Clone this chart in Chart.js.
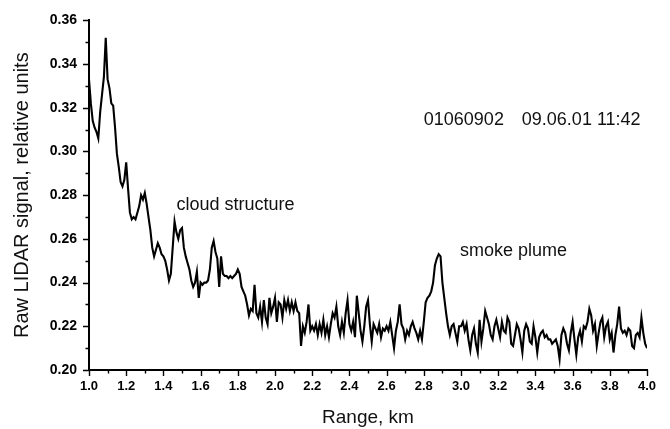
<!DOCTYPE html>
<html>
<head>
<meta charset="utf-8">
<script src="https://cdn.jsdelivr.net/npm/chart.js@4.4.1/dist/chart.umd.min.js"></script>
<style>
  html, body { margin: 0; padding: 0; background: #fff; }
  #lidarChart { display: block; }
</style>
</head>
<body>
<canvas id="lidarChart" width="670" height="429"></canvas>
<script>
// sampling along the beam, km
const rangeStart = 1.0;
const rangeStep = 0.01;

// raw return, one value per 10 m
const signal1_0 = [
  0.333, 0.322, 0.314, 0.311, 0.309, 0.306, 0.318, 0.326, 0.334, 0.352,
  0.333, 0.329, 0.322, 0.321, 0.311, 0.299, 0.293, 0.286, 0.284, 0.287,
  0.295, 0.283, 0.272, 0.269, 0.270, 0.269, 0.272, 0.275, 0.280, 0.278,
  0.281, 0.276, 0.270, 0.264, 0.256, 0.252, 0.255, 0.258, 0.256, 0.253,
  0.252, 0.250, 0.246, 0.241, 0.244, 0.256, 0.268, 0.263, 0.260, 0.264
];
const signal1_5 = [
  0.265, 0.256, 0.252, 0.249, 0.246, 0.241, 0.238, 0.240, 0.245, 0.233,
  0.240, 0.239, 0.240, 0.240, 0.241, 0.246, 0.256, 0.259, 0.254, 0.251,
  0.238, 0.252, 0.244, 0.243, 0.243, 0.242, 0.243, 0.242, 0.243, 0.244,
  0.246, 0.244, 0.238, 0.236, 0.234, 0.230, 0.225, 0.228, 0.227, 0.239,
  0.226, 0.224, 0.229, 0.222, 0.232, 0.224, 0.221, 0.233, 0.226, 0.229
];
const signal2_0 = [
  0.233, 0.222, 0.231, 0.230, 0.224, 0.232, 0.228, 0.232, 0.227, 0.231,
  0.227, 0.231, 0.227, 0.226, 0.211, 0.220, 0.217, 0.222, 0.230, 0.218,
  0.220, 0.218, 0.221, 0.216, 0.221, 0.217, 0.223, 0.216, 0.220, 0.215,
  0.221, 0.226, 0.224, 0.229, 0.220, 0.216, 0.222, 0.217, 0.226, 0.232,
  0.221, 0.218, 0.222, 0.215, 0.234, 0.226, 0.218, 0.213, 0.220, 0.229
];
const signal2_5 = [
  0.232, 0.221, 0.213, 0.221, 0.219, 0.217, 0.221, 0.215, 0.219, 0.218,
  0.220, 0.218, 0.222, 0.216, 0.210, 0.218, 0.222, 0.230, 0.221, 0.219,
  0.214, 0.218, 0.216, 0.220, 0.222, 0.219, 0.217, 0.214, 0.218, 0.214,
  0.222, 0.231, 0.233, 0.234, 0.236, 0.240, 0.248, 0.251, 0.253, 0.252,
  0.240, 0.233, 0.226, 0.220, 0.216, 0.220, 0.221, 0.217, 0.213, 0.220
];
const signal3_0 = [
  0.220, 0.222, 0.218, 0.221, 0.214, 0.209, 0.216, 0.219, 0.212, 0.208,
  0.223, 0.213, 0.219, 0.227, 0.224, 0.221, 0.216, 0.214, 0.220, 0.223,
  0.219, 0.215, 0.222, 0.218, 0.217, 0.224, 0.222, 0.212, 0.211, 0.216,
  0.221, 0.219, 0.214, 0.208, 0.218, 0.221, 0.219, 0.213, 0.212, 0.220,
  0.215, 0.208, 0.215, 0.217, 0.218, 0.215, 0.216, 0.214, 0.214, 0.212,
  0.213
];
const signal3_5 = [
  0.214, 0.211, 0.205, 0.216, 0.219, 0.217, 0.212, 0.209, 0.217, 0.222,
  0.214, 0.207, 0.215, 0.218, 0.213, 0.220, 0.219, 0.222, 0.228, 0.225,
  0.218, 0.221, 0.211, 0.217, 0.222, 0.224, 0.215, 0.220, 0.222, 0.214,
  0.217, 0.208, 0.216, 0.221, 0.229, 0.219, 0.217, 0.218, 0.216, 0.219,
  0.218, 0.211, 0.210, 0.216, 0.217, 0.215, 0.224, 0.217, 0.212, 0.210
];

const xTickValues = [1.0, 1.2, 1.4, 1.6, 1.8, 2.0, 2.2, 2.4, 2.6, 2.8, 3.0, 3.2, 3.4, 3.6, 3.8, 4.0];
const yTickValues = [0.20, 0.22, 0.24, 0.26, 0.28, 0.30, 0.32, 0.34, 0.36];

const signal = [].concat(signal1_0, signal1_5, signal2_0, signal2_5, signal3_0, signal3_5);
const points = signal.map((v, i) => ({ x: rangeStart + i * rangeStep, y: v }));

const fontFamily = "'Liberation Sans', Arial, sans-serif";

// text notes placed in data units
const notes = [
  { text: "01060902", x: 2.80, y: 0.3121 },
  { text: "09.06.01 11:42", x: 3.327, y: 0.3121 },
  { text: "cloud structure", x: 1.47, y: 0.2732 },
  { text: "smoke plume", x: 2.994, y: 0.2520 }
];

// outward tick marks, long on labelled values, short in between
const tickMarks = {
  id: "tickMarks",
  afterDraw(chart) {
    const ctx = chart.ctx;
    const xs = chart.scales.x;
    const ys = chart.scales.y;
    ctx.save();
    ctx.strokeStyle = "#000";
    ctx.lineWidth = 1.4;
    ctx.beginPath();
    for (let i = 0; i <= 30; i++) {
      const px = Math.round(xs.getPixelForValue(1 + i * 0.1)) + 0.5;
      const len = i % 2 === 0 ? 6 : 3.5;
      ctx.moveTo(px, ys.bottom);
      ctx.lineTo(px, ys.bottom + len);
    }
    for (let i = 0; i <= 16; i++) {
      const py = Math.round(ys.getPixelForValue(0.20 + i * 0.01)) + 0.5;
      const len = i % 2 === 0 ? 6 : 3.5;
      ctx.moveTo(xs.left, py);
      ctx.lineTo(xs.left - len, py);
    }
    ctx.stroke();
    ctx.restore();
  }
};

const textNotes = {
  id: "textNotes",
  afterDatasetsDraw(chart) {
    const ctx = chart.ctx;
    const xs = chart.scales.x;
    const ys = chart.scales.y;
    ctx.save();
    ctx.fillStyle = "#111";
    ctx.font = "18px " + fontFamily;
    ctx.textBaseline = "alphabetic";
    ctx.textAlign = "left";
    notes.forEach(n => {
      ctx.fillText(n.text, xs.getPixelForValue(n.x), ys.getPixelForValue(n.y));
    });
    ctx.restore();
  }
};

new Chart(document.getElementById("lidarChart"), {
  type: "line",
  data: {
    datasets: [{
      data: points,
      borderColor: "#000",
      borderWidth: 2.1,
      pointRadius: 0,
      tension: 0,
      fill: false
    }]
  },
  options: {
    responsive: false,
    animation: false,
    parsing: false,
    layout: { padding: { top: 16, right: 23, left: 0, bottom: 0 } },
    plugins: {
      legend: { display: false },
      tooltip: { enabled: false }
    },
    scales: {
      x: {
        type: "linear",
        min: 1.0,
        max: 4.0,
        afterFit(scale) { scale.height = 59; },
        afterBuildTicks(scale) { scale.ticks = xTickValues.map(v => ({ value: v })); },
        grid: { display: false, drawTicks: false },
        border: { display: true, color: "#000", width: 2 },
        ticks: {
          color: "#000",
          padding: 9,
          maxRotation: 0,
          autoSkip: false,
          font: { family: fontFamily, size: 13, weight: "bold" },
          callback: v => v.toFixed(1)
        },
        title: {
          display: true,
          text: "Range, km",
          color: "#111",
          font: { family: fontFamily, size: 19 },
          padding: { top: 6, bottom: 0 }
        }
      },
      y: {
        min: 0.20,
        max: 0.36,
        afterFit(scale) { scale.width = 89; },
        afterBuildTicks(scale) { scale.ticks = yTickValues.map(v => ({ value: v })); },
        grid: { display: false, drawTicks: false },
        border: { display: true, color: "#000", width: 2 },
        ticks: {
          color: "#000",
          padding: 12,
          autoSkip: false,
          font: { family: fontFamily, size: 14, weight: "bold" },
          callback: v => v.toFixed(2)
        },
        title: {
          display: true,
          text: "Raw LIDAR signal, relative units",
          color: "#111",
          font: { family: fontFamily, size: 20 },
          padding: { top: 10, bottom: 0 }
        }
      }
    }
  },
  plugins: [tickMarks, textNotes]
});
</script>
</body>
</html>
